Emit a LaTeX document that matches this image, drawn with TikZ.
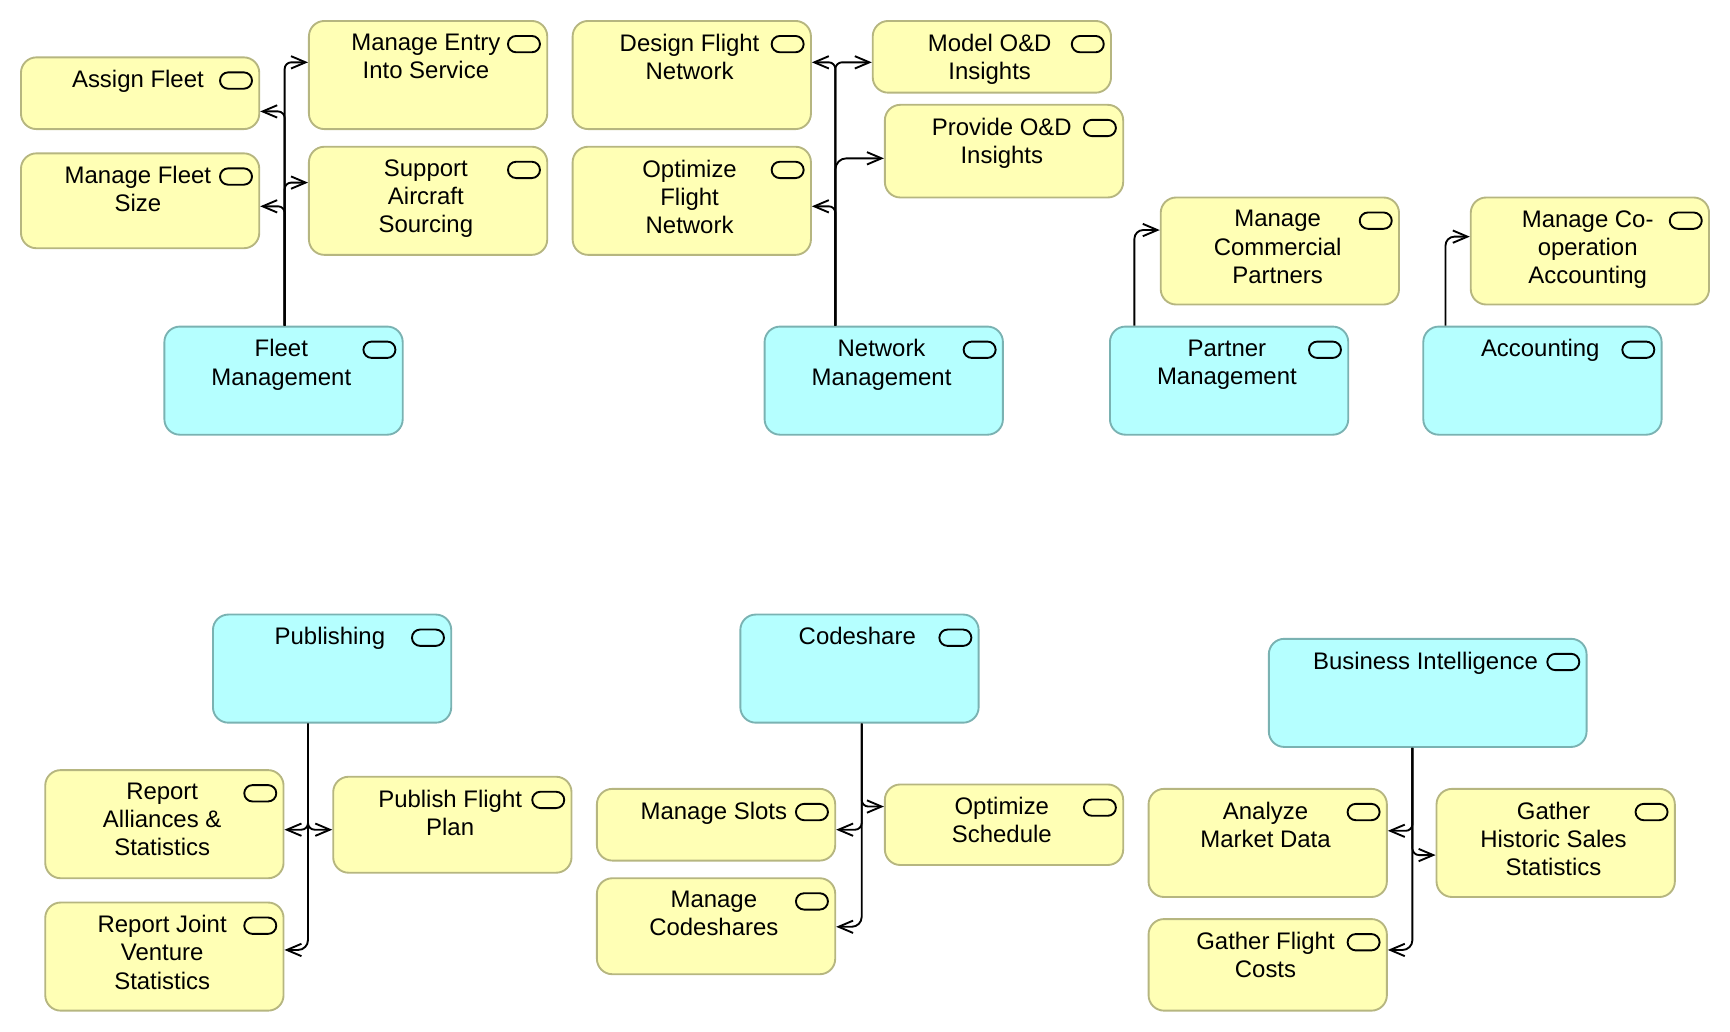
\documentclass[tikz,border=0pt]{standalone}
\usepackage{fontspec}
\setmainfont{Liberation Sans}
\usetikzlibrary{arrows.meta,fit}
\definecolor{bizfill}{RGB}{255,255,181}
\definecolor{bizline}{RGB}{182,182,128}
\definecolor{appfill}{RGB}{181,255,255}
\definecolor{appline}{RGB}{122,178,178}
\newcommand\lblfont{\fontsize{10.85pt}{12.75pt}\selectfont}
\tikzset{
  boxbase/.style={draw, rounded corners=7pt, line width=0.85pt, inner sep=0pt},
  bizbox/.style={boxbase, fill=bizfill, draw=bizline},
  appbox/.style={boxbase, fill=appfill, draw=appline},
  lbl/.style={anchor=north, inner sep=0pt, align=center, font=\lblfont, text=black},
  svcicon/.style={draw=black, line width=0.85pt, rounded corners=3.7pt, inner sep=0pt,
    minimum width=14.5pt, minimum height=7.4pt, anchor=north east},
  conn/.style={draw=black, line width=0.85pt, rounded corners=3pt,
    -{Straight Barb[length=6.6pt,width=5.6pt,line width=0.85pt]}},
}
% style, name, x1, y1, x2, y2, text
\newcommand\fnbox[7]{%
  \node[#1, fit={(#3,#4)(#5,#6)}] (#2) {};
  \node[lbl] (#2-t) at ([xshift=-1pt,yshift=-6.1pt]#2.north) {#7};
  \node[svcicon] (#2-i) at ([xshift=-3.3pt,yshift=-6.8pt]#2.north east) {};
}
\begin{document}
\begin{tikzpicture}[x=0.5pt,y=-0.5pt]
\useasboundingbox (0,0) rectangle (1568,935);
% top row
\fnbox{bizbox}{af}{19}{52}{235}{117}{Assign Fleet}
\fnbox{bizbox}{mfs}{19}{139}{235}{225}{Manage Fleet\\Size}
\fnbox{bizbox}{mes}{280}{19}{496}{117}{Manage Entry\\Into Service}
\fnbox{bizbox}{sas}{280}{133}{496}{231}{Support\\Aircraft\\Sourcing}
\fnbox{appbox}{fm}{149}{296}{365}{394}{Fleet\\Management}
\fnbox{bizbox}{dfn}{519}{19}{735}{117}{Design Flight\\Network}
\fnbox{bizbox}{ofn}{519}{133}{735}{231}{Optimize\\Flight\\Network}
\fnbox{bizbox}{mod}{791}{19}{1007}{84}{Model O\&D\\Insights}
\fnbox{bizbox}{pod}{802}{95}{1018}{179}{Provide O\&D\\Insights}
\fnbox{appbox}{nm}{693}{296}{909}{394}{Network\\Management}
\fnbox{bizbox}{mcp}{1052}{179}{1268}{276}{Manage\\Commercial\\Partners}
\fnbox{appbox}{pm}{1006}{296}{1222}{394}{Partner\\Management}
\fnbox{bizbox}{mca}{1333}{179}{1549}{276}{Manage Co-\\operation\\Accounting}
\fnbox{appbox}{acc}{1290}{296}{1506}{394}{Accounting}
% bottom row
\fnbox{appbox}{pub}{193}{557}{409}{655}{Publishing}
\fnbox{bizbox}{ras}{41}{698}{257}{796}{Report\\Alliances \&\\Statistics}
\fnbox{bizbox}{pfp}{302}{704}{518}{791}{Publish Flight\\Plan}
\fnbox{bizbox}{rjv}{41}{818}{257}{916}{Report Joint\\Venture\\Statistics}
\fnbox{appbox}{cs}{671}{557}{887}{655}{Codeshare}
\fnbox{bizbox}{ms}{541}{715}{757}{780}{Manage Slots}
\fnbox{bizbox}{mc}{541}{796}{757}{883}{Manage\\Codeshares}
\fnbox{bizbox}{os}{802}{711}{1018}{784}{Optimize\\Schedule}
\fnbox{appbox}{bi}{1150}{579}{1438}{677}{Business Intelligence}
\fnbox{bizbox}{amd}{1041}{715}{1257}{813}{Analyze\\Market Data}
\fnbox{bizbox}{ghs}{1302}{715}{1518}{813}{Gather\\Historic Sales\\Statistics}
\fnbox{bizbox}{gfc}{1041}{833}{1257}{916}{Gather Flight\\Costs}
% connectors: Fleet Management
\draw[conn] ([xshift=0.5pt]fm.north) |- (mes.west |- 0,56.5);
\draw[conn] ([xshift=0.5pt]fm.north) |- (af.east |- 0,101);
\draw[conn] ([xshift=0.5pt]fm.north) |- (sas.west |- 0,165.5);
\draw[conn] ([xshift=0.5pt]fm.north) |- (mfs.east |- 0,187);
% Network Management
\draw[conn] ([xshift=32.5pt]nm.north west) |- (dfn.east |- 0,56.5);
\draw[conn] ([xshift=32.5pt]nm.north west) |- (mod.west |- 0,56.5);
\draw[conn, rounded corners=5pt] ([xshift=32.5pt]nm.north west) |- (pod.west |- 0,143.5);
\draw[conn] ([xshift=32.5pt]nm.north west) |- (ofn.east |- 0,187);
% Partner / Accounting
\draw[conn, rounded corners=4pt] ([xshift=11.5pt]pm.north west) |- (mcp.west |- 0,208.5);
\draw[conn, rounded corners=4pt] ([xshift=10.5pt]acc.north west) |- (mca.west |- 0,214.5);
% Publishing
\draw[conn] ([xshift=43.5pt]pub.south west) |- (ras.east |- 0,752);
\draw[conn] ([xshift=43.5pt]pub.south west) |- (pfp.west |- 0,752);
\draw[conn, rounded corners=4.5pt] ([xshift=43.5pt]pub.south west) |- (rjv.east |- 0,861);
% Codeshare
\draw[conn] ([xshift=1pt]cs.south) |- (os.west |- 0,731);
\draw[conn] ([xshift=1pt]cs.south) |- (ms.east |- 0,752);
\draw[conn, rounded corners=4.5pt] ([xshift=1pt]cs.south) |- (mc.east |- 0,840);
% Business Intelligence
\draw[conn] ([xshift=65.5pt]bi.south west) |- (amd.east |- 0,753);
\draw[conn] ([xshift=65.5pt]bi.south west) |- (ghs.west |- 0,775);
\draw[conn, rounded corners=4.5pt] ([xshift=65.5pt]bi.south west) |- (gfc.east |- 0,861);
\end{tikzpicture}
\end{document}
